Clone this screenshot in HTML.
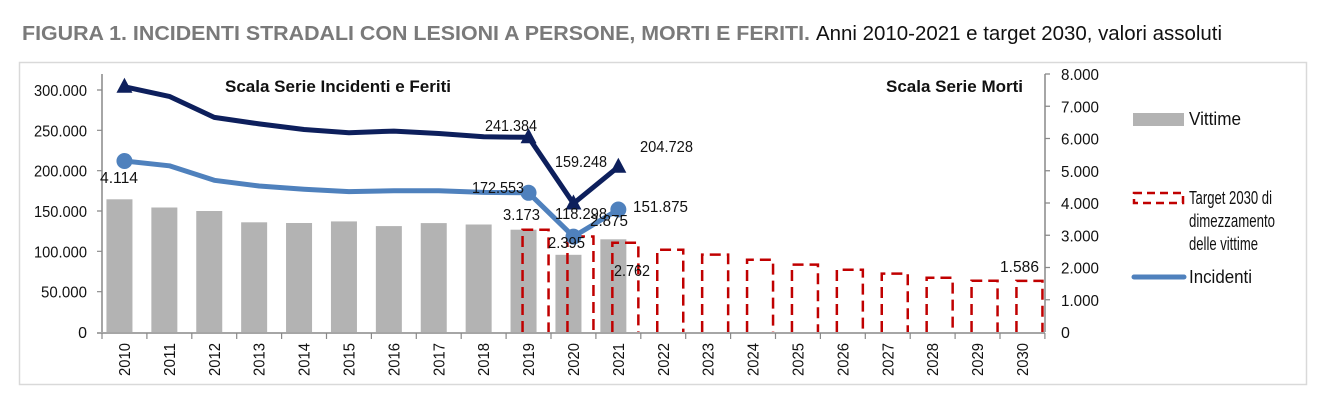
<!DOCTYPE html>
<html><head><meta charset="utf-8"><style>
html,body{margin:0;padding:0;background:#fff;}
svg{display:block;}
text{font-family:"Liberation Sans Narrow","Liberation Sans",sans-serif;}
</style></head><body>
<svg width="1332" height="409" viewBox="0 0 1332 409" xmlns="http://www.w3.org/2000/svg">
<text x="22" y="40" font-size="20" font-weight="bold" fill="#7a7a7a" textLength="788" lengthAdjust="spacingAndGlyphs">FIGURA 1. INCIDENTI STRADALI CON LESIONI A PERSONE, MORTI E FERITI.</text>
<text x="816" y="40" font-size="20" fill="#111" textLength="406" lengthAdjust="spacingAndGlyphs">Anni 2010-2021 e target 2030, valori assoluti</text>
<rect x="19.5" y="62.5" width="1287" height="322" fill="none" stroke="#d9d9d9" stroke-width="1.5"/>

<g fill="#b3b3b3">
<rect x="106.45" y="199.3" width="26" height="132.7"/>
<rect x="151.35" y="207.5" width="26" height="124.5"/>
<rect x="196.25" y="211" width="26" height="121"/>
<rect x="241.15" y="222.3" width="26" height="109.7"/>
<rect x="286.05" y="223" width="26" height="109"/>
<rect x="330.95" y="221.4" width="26" height="110.6"/>
<rect x="375.85" y="226.1" width="26" height="105.9"/>
<rect x="420.75" y="223.1" width="26" height="108.9"/>
<rect x="465.65" y="224.5" width="26" height="107.5"/>
<rect x="510.55" y="229.7" width="26" height="102.3"/>
<rect x="555.45" y="254.8" width="26" height="77.2"/>
<rect x="600.35" y="239.3" width="26" height="92.7"/>
</g>

<g fill="none" stroke="#c00000" stroke-width="2.5" stroke-dasharray="11,6">
<path d="M522.55 332V229.7H548.55V332"/>
<path d="M567.45 332V236.5H593.45V332"/>
<path d="M612.35 332V242.7H638.35V332"/>
<path d="M657.25 332V249.8H683.25V332"/>
<path d="M702.15 332V254.6H728.15V332"/>
<path d="M747.05 332V259.8H773.05V332"/>
<path d="M791.95 332V264.6H817.95V332"/>
<path d="M836.85 332V269.8H862.85V332"/>
<path d="M881.75 332V273.6H907.75V332"/>
<path d="M926.65 332V277.8H952.65V332"/>
<path d="M971.55 332V280.7H997.55V332"/>
<path d="M1016.45 332V280.9H1042.45V332"/>
</g>

<g stroke="#888" stroke-width="1.5" fill="none">
<line x1="102" y1="74" x2="102" y2="332"/>
<line x1="1045" y1="74" x2="1045" y2="332"/>
<line x1="97" y1="333" x2="1045" y2="333"/>
<path stroke-width="1.2" d="M102 333v6M146.9 333v6M191.8 333v6M236.7 333v6M281.6 333v6M326.5 333v6M371.4 333v6M416.3 333v6M461.2 333v6M506.1 333v6M551 333v6M595.9 333v6M640.8 333v6M685.7 333v6M730.6 333v6M775.5 333v6M820.4 333v6M865.3 333v6M910.2 333v6M955.1 333v6M1000 333v6M1044.9 333v6"/>
<path stroke-width="1.2" d="M97 291.7h5M97 251.3h5M97 211h5M97 170.7h5M97 130.3h5M97 90h5"/>
<path stroke-width="1.2" d="M1045 299.75h5M1045 267.5h5M1045 235.25h5M1045 203h5M1045 170.75h5M1045 138.5h5M1045 106.25h5M1045 74h5"/>
</g>

<g font-size="16" fill="#111" text-anchor="end">
<text x="87" y="338">0</text>
<text x="87" y="297.7" textLength="46" lengthAdjust="spacingAndGlyphs">50.000</text>
<text x="87" y="257.3" textLength="53" lengthAdjust="spacingAndGlyphs">100.000</text>
<text x="87" y="217" textLength="53" lengthAdjust="spacingAndGlyphs">150.000</text>
<text x="87" y="176.7" textLength="53" lengthAdjust="spacingAndGlyphs">200.000</text>
<text x="87" y="136.3" textLength="53" lengthAdjust="spacingAndGlyphs">250.000</text>
<text x="87" y="96" textLength="53" lengthAdjust="spacingAndGlyphs">300.000</text>
</g>
<g font-size="16" fill="#111">
<text x="1061" y="338">0</text>
<text x="1061" y="305.75" textLength="38" lengthAdjust="spacingAndGlyphs">1.000</text>
<text x="1061" y="273.5" textLength="38" lengthAdjust="spacingAndGlyphs">2.000</text>
<text x="1061" y="241.25" textLength="38" lengthAdjust="spacingAndGlyphs">3.000</text>
<text x="1061" y="209" textLength="38" lengthAdjust="spacingAndGlyphs">4.000</text>
<text x="1061" y="176.75" textLength="38" lengthAdjust="spacingAndGlyphs">5.000</text>
<text x="1061" y="144.5" textLength="38" lengthAdjust="spacingAndGlyphs">6.000</text>
<text x="1061" y="112.25" textLength="38" lengthAdjust="spacingAndGlyphs">7.000</text>
<text x="1061" y="80" textLength="38" lengthAdjust="spacingAndGlyphs">8.000</text>
</g>

<g font-size="16" fill="#111" text-anchor="end">
<text transform="translate(130,343) rotate(-90)" textLength="33" lengthAdjust="spacingAndGlyphs">2010</text>
<text transform="translate(174.9,343) rotate(-90)" textLength="33" lengthAdjust="spacingAndGlyphs">2011</text>
<text transform="translate(219.8,343) rotate(-90)" textLength="33" lengthAdjust="spacingAndGlyphs">2012</text>
<text transform="translate(264.7,343) rotate(-90)" textLength="33" lengthAdjust="spacingAndGlyphs">2013</text>
<text transform="translate(309.6,343) rotate(-90)" textLength="33" lengthAdjust="spacingAndGlyphs">2014</text>
<text transform="translate(354.5,343) rotate(-90)" textLength="33" lengthAdjust="spacingAndGlyphs">2015</text>
<text transform="translate(399.4,343) rotate(-90)" textLength="33" lengthAdjust="spacingAndGlyphs">2016</text>
<text transform="translate(444.3,343) rotate(-90)" textLength="33" lengthAdjust="spacingAndGlyphs">2017</text>
<text transform="translate(489.2,343) rotate(-90)" textLength="33" lengthAdjust="spacingAndGlyphs">2018</text>
<text transform="translate(534.1,343) rotate(-90)" textLength="33" lengthAdjust="spacingAndGlyphs">2019</text>
<text transform="translate(579,343) rotate(-90)" textLength="33" lengthAdjust="spacingAndGlyphs">2020</text>
<text transform="translate(623.9,343) rotate(-90)" textLength="33" lengthAdjust="spacingAndGlyphs">2021</text>
<text transform="translate(668.8,343) rotate(-90)" textLength="33" lengthAdjust="spacingAndGlyphs">2022</text>
<text transform="translate(713.7,343) rotate(-90)" textLength="33" lengthAdjust="spacingAndGlyphs">2023</text>
<text transform="translate(758.6,343) rotate(-90)" textLength="33" lengthAdjust="spacingAndGlyphs">2024</text>
<text transform="translate(803.5,343) rotate(-90)" textLength="33" lengthAdjust="spacingAndGlyphs">2025</text>
<text transform="translate(848.4,343) rotate(-90)" textLength="33" lengthAdjust="spacingAndGlyphs">2026</text>
<text transform="translate(893.3,343) rotate(-90)" textLength="33" lengthAdjust="spacingAndGlyphs">2027</text>
<text transform="translate(938.2,343) rotate(-90)" textLength="33" lengthAdjust="spacingAndGlyphs">2028</text>
<text transform="translate(983.1,343) rotate(-90)" textLength="33" lengthAdjust="spacingAndGlyphs">2029</text>
<text transform="translate(1028,343) rotate(-90)" textLength="33" lengthAdjust="spacingAndGlyphs">2030</text>
</g>

<polyline fill="none" stroke="#4f81bd" stroke-width="5" stroke-linejoin="round" points="124.45,161 169.35,165.8 214.25,180.3 259.15,186 304.05,189.2 348.95,191.6 393.85,190.8 438.75,190.8 483.65,192.4 528.55,192.8 573.45,236.6 618.35,209.5"/>
<polyline fill="none" stroke="#0d1f5c" stroke-width="5" stroke-linejoin="round" points="124.45,86.8 169.35,96.4 214.25,117.4 259.15,123.9 304.05,129.5 348.95,132.7 393.85,131.1 438.75,133.5 483.65,136.8 528.55,137.3 573.45,203.5 618.35,166.8"/>
<g fill="#4f81bd">
<circle cx="124.45" cy="161" r="8"/><circle cx="528.55" cy="192.8" r="8"/><circle cx="573.45" cy="236.6" r="8"/><circle cx="618.35" cy="209.5" r="8"/>
</g>
<g fill="#0d1f5c">
<path d="M116.45 92.8L124.45 77.8L132.45 92.8Z"/>
<path d="M520.55 143.3L528.55 128.3L536.55 143.3Z"/>
<path d="M565.45 209.5L573.45 194.5L581.45 209.5Z"/>
<path d="M610.35 172.8L618.35 157.8L626.35 172.8Z"/>
</g>

<text x="225" y="92" font-size="17" font-weight="bold" fill="#111" textLength="226" lengthAdjust="spacingAndGlyphs">Scala Serie Incidenti e Feriti</text>
<text x="886" y="92" font-size="17" font-weight="bold" fill="#111" textLength="137" lengthAdjust="spacingAndGlyphs">Scala Serie Morti</text>

<g font-size="16" fill="#111">
<text x="100" y="183" textLength="38" lengthAdjust="spacingAndGlyphs">4.114</text>
<text x="485" y="131" textLength="52" lengthAdjust="spacingAndGlyphs">241.384</text>
<text x="555" y="167" textLength="52" lengthAdjust="spacingAndGlyphs">159.248</text>
<text x="640" y="152" textLength="53" lengthAdjust="spacingAndGlyphs">204.728</text>
<text x="472" y="193" textLength="52" lengthAdjust="spacingAndGlyphs">172.553</text>
<text x="503" y="220" textLength="37" lengthAdjust="spacingAndGlyphs">3.173</text>
<text x="555" y="219" textLength="52" lengthAdjust="spacingAndGlyphs">118.298</text>
<text x="590" y="226" textLength="38" lengthAdjust="spacingAndGlyphs">2.875</text>
<text x="633" y="212" textLength="55" lengthAdjust="spacingAndGlyphs">151.875</text>
<text x="548" y="248" textLength="37" lengthAdjust="spacingAndGlyphs">2.395</text>
<text x="614" y="276" textLength="36" lengthAdjust="spacingAndGlyphs">2.762</text>
<text x="1000" y="272" textLength="39" lengthAdjust="spacingAndGlyphs">1.586</text>
</g>

<rect x="1133" y="113" width="51" height="13" fill="#b3b3b3"/>
<rect x="1134" y="193" width="49" height="10" fill="none" stroke="#c00000" stroke-width="2.5" stroke-dasharray="8,5"/>
<line x1="1134" y1="277" x2="1184" y2="277" stroke="#4f81bd" stroke-width="5" stroke-linecap="round"/>
<g font-size="18" fill="#111">
<text x="1189" y="125" textLength="52" lengthAdjust="spacingAndGlyphs">Vittime</text>
<text x="1189" y="204" textLength="83" lengthAdjust="spacingAndGlyphs">Target 2030 di</text>
<text x="1189" y="227" textLength="86" lengthAdjust="spacingAndGlyphs">dimezzamento</text>
<text x="1189" y="250" textLength="69" lengthAdjust="spacingAndGlyphs">delle vittime</text>
<text x="1189" y="283" textLength="63" lengthAdjust="spacingAndGlyphs">Incidenti</text>
</g>
</svg>
</body></html>
